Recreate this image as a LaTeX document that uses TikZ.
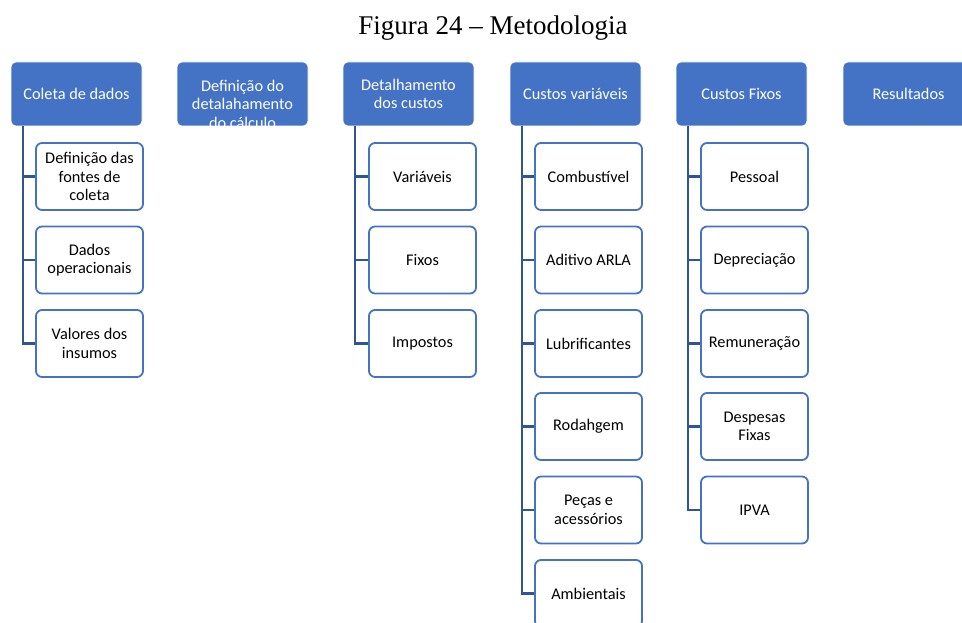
\documentclass[tikz,border=0pt]{standalone}
\usepackage{fontspec}
\setmainfont{Carlito}
\newfontfamily\titlefont{Liberation Serif}
\definecolor{officeblue}{HTML}{4472C4}
\definecolor{linkblue}{HTML}{2F5597}
\begin{document}
\begin{tikzpicture}[x=1pt, y=-1pt,
    stage/.style={draw=white, line width=0.6pt, fill=officeblue, rounded corners=5pt,
      minimum width=131pt, minimum height=64pt, text=white, align=center,
      font=\fontsize{16.3}{18.5}\selectfont, inner sep=0pt},
    item/.style={draw=officeblue, line width=1.8pt, fill=white, rounded corners=6pt,
      minimum width=107pt, minimum height=67pt, text=black, align=center,
      font=\fontsize{16.3}{18.5}\selectfont, inner sep=0pt},
    link/.style={draw=linkblue, line width=2.2pt}]
  \useasboundingbox (0,0) rectangle (962,623);
  \clip (0,0) rectangle (962,623);

  % Title
  \node[font=\titlefont\fontsize{27}{32}\selectfont] (title) at (493,28) {Figura 24 – Metodologia};

  % Stages
  \node[stage] (coleta) at (76.5,94) {Coleta de dados};
  \node[stage] (defcalc) at (242.5,94) {};
  \node[text=white, align=center, font=\fontsize{16.3}{18.5}\selectfont] (defcalctext) at (242.5,104) {Definição do\\detalahamento\\do cálculo};
  \node[stage] (detalhe) at (408.5,94) {Detalhamento\\dos custos};
  \node[stage] (variaveis) at (575.5,94) {Custos variáveis};
  \node[stage] (fixos) at (741.5,94) {Custos Fixos};
  \node[stage] (resultados) at (908.5,94) {Resultados};

  % Coleta de dados
  \node[item] (fontes) at (89.5,176.5) {Definição das\\fontes de\\coleta};
  \node[item] (operac) at (89.5,260) {Dados\\operacionais};
  \node[item] (insumos) at (89.5,343.5) {Valores dos\\insumos};
  \draw[link] ([xshift=12pt]coleta.south west) |- (fontes.west);
  \draw[link] ([xshift=12pt]coleta.south west) |- (operac.west);
  \draw[link] ([xshift=12pt]coleta.south west) |- (insumos.west);

  % Detalhamento dos custos
  \node[item] (tvar) at (422.5,176.5) {Variáveis};
  \node[item] (tfix) at (422.5,260) {Fixos};
  \node[item] (timp) at (422.5,343.5) {Impostos};
  \draw[link] ([xshift=12pt]detalhe.south west) |- (tvar.west);
  \draw[link] ([xshift=12pt]detalhe.south west) |- (tfix.west);
  \draw[link] ([xshift=12pt]detalhe.south west) |- (timp.west);

  % Custos variaveis
  \node[item] (comb) at (588.5,176.5) {Combustível};
  \node[item] (arla) at (588.5,260) {Aditivo ARLA};
  \node[item] (lubri) at (588.5,343.5) {Lubrificantes};
  \node[item] (roda) at (588.5,426.5) {Rodahgem};
  \node[item] (pecas) at (588.5,510) {Peças e\\acessórios};
  \node[item] (amb) at (588.5,593.5) {Ambientais};
  \draw[link] ([xshift=12pt]variaveis.south west) |- (comb.west);
  \draw[link] ([xshift=12pt]variaveis.south west) |- (arla.west);
  \draw[link] ([xshift=12pt]variaveis.south west) |- (lubri.west);
  \draw[link] ([xshift=12pt]variaveis.south west) |- (roda.west);
  \draw[link] ([xshift=12pt]variaveis.south west) |- (pecas.west);
  \draw[link] ([xshift=12pt]variaveis.south west) |- (amb.west);

  % Custos Fixos
  \node[item] (pessoal) at (754.5,176.5) {Pessoal};
  \node[item] (deprec) at (754.5,260) {Depreciação};
  \node[item] (remun) at (754.5,343.5) {Remuneração};
  \node[item] (desp) at (754.5,426.5) {Despesas\\Fixas};
  \node[item] (ipva) at (754.5,510) {IPVA};
  \draw[link] ([xshift=12pt]fixos.south west) |- (pessoal.west);
  \draw[link] ([xshift=12pt]fixos.south west) |- (deprec.west);
  \draw[link] ([xshift=12pt]fixos.south west) |- (remun.west);
  \draw[link] ([xshift=12pt]fixos.south west) |- (desp.west);
  \draw[link] ([xshift=12pt]fixos.south west) |- (ipva.west);
\end{tikzpicture}
\end{document}
